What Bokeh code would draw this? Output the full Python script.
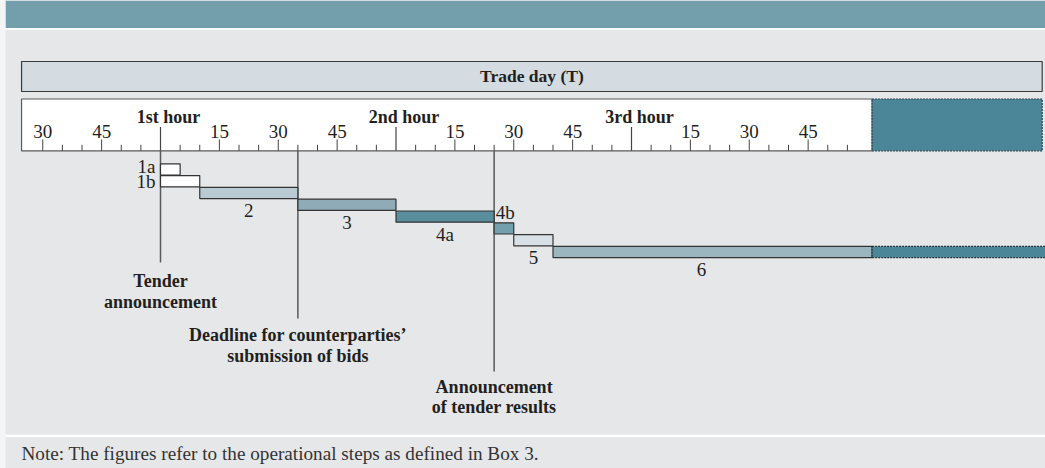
from bokeh.plotting import figure
from bokeh.models import Range1d, ColumnDataSource
from bokeh.core.properties import value
from bokeh.embed import file_html
from bokeh.resources import INLINE

# ---------------- data ----------------
steps = ["1a", "1b", "2", "3", "4a", "4b", "5", "6"]
step_start = [0, 0, 10, 35, 60, 85, 90, 100]      # minutes after start of 1st hour
step_end = [5, 10, 35, 60, 85, 90, 100, 181.3]
step_colors = ["#ffffff", "#ffffff", "#b9cad3", "#8eabb7", "#5a8e9d",
               "#74a0ae", "#d9e1e6", "#9cb6c0"]

window_start = -35.4     # visible time window (minutes)
window_end = 181.3
beyond_end = 226.0       # the day continues beyond the window

major_ticks = [-30, -15, 15, 30, 45, 75, 90, 105, 135, 150, 165]
major_labels = ["30", "45", "15", "30", "45", "15", "30", "45", "15", "30", "45"]
hour_ticks = [0, 60, 120]
hour_labels = ["1st hour", "2nd hour", "3rd hour"]
minor_ticks = [-25, -20, -10, -5, 5, 10, 20, 25, 35, 40, 50, 55, 65, 70, 80, 85,
               95, 100, 110, 115, 125, 130, 140, 145, 155, 160, 170, 175]

events = [0, 35, 85]
event_text = [["Tender", "announcement"],
              ["Deadline for counterparties\u2019", "submission of bids"],
              ["Announcement", "of tender results"]]

band_title = "Trade day (T)"
note = "Note: The figures refer to the operational steps as defined in Box 3."

# ---------------- layout ----------------
X0 = 160.0      # screen x of the start of the 1st hour
PPM = 3.925     # pixels per minute
W, H = 1045, 468
x0 = (0 - X0) / PPM
x1 = (W - X0) / PPM
FONT = value("Liberation Serif")
INK = "#231f20"

def tx(px):
    return (px - X0) / PPM

p = figure(width=W, height=H, output_backend="svg", toolbar_location=None,
           x_range=Range1d(x0, x1), y_range=Range1d(H, 0),
           x_axis_location=None, y_axis_location=None,
           min_border=0, background_fill_color="#e6e7e9",
           border_fill_color="#e6e7e9", outline_line_color=None)
p.grid.visible = False

# header band, separators, left page strip
p.quad(left=tx(5), right=x1, top=0, bottom=27.4, fill_color="#739fac", line_color=None)
p.quad(left=x0, right=x1, top=27.4, bottom=29.2, fill_color="#ffffff", line_color=None)
p.quad(left=x0, right=x1, top=434.2, bottom=436.6, fill_color="#ffffff", line_color=None)
p.quad(left=x0, right=tx(5), top=0, bottom=H, fill_color="#f4f5f6", line_color=None)

# Trade day band
RIGHT = tx(1041.7)
p.quad(left=window_start, right=RIGHT, top=61, bottom=91,
       fill_color="#d4dce2", line_color="#3a3a3a", line_width=1.2)
p.text(x=[(window_start + RIGHT) / 2], y=[75], text=[band_title],
       text_font=FONT, text_font_style="bold", text_font_size="17.5px",
       text_align="center", text_baseline="middle", text_color=INK)

# time-axis box
AX_TOP, AX_BASE = 98.5, 150.3
p.quad(left=window_start, right=window_end, top=AX_TOP, bottom=AX_BASE,
       fill_color="#ffffff", line_color="#5a5a5a", line_width=1.2)
p.quad(left=window_end, right=RIGHT, top=AX_TOP, bottom=AX_BASE,
       fill_color="#4b8698", line_color="#2b4650", line_width=1.2, line_dash="2 1")

# ticks
p.segment(x0=minor_ticks, x1=minor_ticks, y0=[AX_BASE] * len(minor_ticks),
          y1=[144.3] * len(minor_ticks), line_color="#444444", line_width=1)
p.segment(x0=major_ticks, x1=major_ticks, y0=[AX_BASE] * len(major_ticks),
          y1=[139.0] * len(major_ticks), line_color="#444444", line_width=1)
p.segment(x0=hour_ticks, x1=hour_ticks, y0=[AX_BASE] * len(hour_ticks),
          y1=[126.5] * len(hour_ticks), line_color="#444444", line_width=1.2)
p.text(x=major_ticks, y=[130.8] * len(major_ticks), text=major_labels,
       text_font=FONT, text_font_size="19px", text_align="center",
       text_baseline="middle", text_color=INK)
p.text(x=[h + 8 / PPM for h in hour_ticks], y=[116] * len(hour_ticks),
       text=hour_labels, text_font=FONT, text_font_style="bold",
       text_font_size="18px", text_align="center", text_baseline="middle",
       text_color=INK)

# event lines
ev_bottom = [262, 318, 371]
p.segment(x0=events, x1=events, y0=[AX_BASE] * 3, y1=ev_bottom,
          line_color="#5a5a5a", line_width=1.5)

# step bars
ROW0, ROWSTEP, ROWH = 163.3, 11.8, 11.2
tops = [ROW0 + ROWSTEP * i for i in range(len(steps))]
bots = [t + ROWH for t in tops]
src = ColumnDataSource(dict(left=step_start, right=step_end, top=tops, bottom=bots,
                            color=step_colors))
p.quad(left="left", right="right", top="top", bottom="bottom", source=src,
       fill_color="color", line_color="#333333", line_width=1.2)
# continuation of step 6 beyond the window
p.quad(left=[step_end[-1]], right=[beyond_end], top=[tops[-1]], bottom=[bots[-1]],
       fill_color="#4b8698", line_color="#22343a", line_width=1.2, line_dash="2 1")

# step labels
lx, ly, la, lt = [], [], [], []
for i, s in enumerate(steps):
    if s in ("1a", "1b"):
        lx.append(-5 / PPM); ly.append(bots[i] - (8.7 if s == "1a" else 5.5)); la.append("right")
    elif s == "4b":
        lx.append(step_start[i] + 1.5 / PPM); ly.append(tops[i] - 10); la.append("left")
    else:
        mid = (step_start[i] + step_end[i]) / 2
        if s == "6":
            mid -= 11 / PPM
        lx.append(mid); ly.append(bots[i] + 12); la.append("center")
    lt.append(s)
lsrc = ColumnDataSource(dict(x=lx, y=ly, text=lt, align=la))
p.text(x="x", y="y", text="text", text_align="align", source=lsrc,
       text_font=FONT, text_font_size="19px", text_baseline="middle",
       text_color=INK)

# event annotations
ev_mid = [[280, 301.7], [334.2, 355.5], [386.7, 406.7]]
ex, ey, et = [], [], []
for e, lines, mids in zip(events, event_text, ev_mid):
    for line, m in zip(lines, mids):
        ex.append(e); ey.append(m); et.append(line)
p.text(x=ex, y=ey, text=et, text_font=FONT, text_font_style="bold",
       text_font_size="18px", text_align="center", text_baseline="middle",
       text_color=INK)

# note
p.text(x=[tx(21)], y=[453], text=[note], text_font=FONT,
       text_font_size="19.2px", text_align="left", text_baseline="middle",
       text_color="#333333")

open("out.html", "w").write(file_html(p, INLINE))
